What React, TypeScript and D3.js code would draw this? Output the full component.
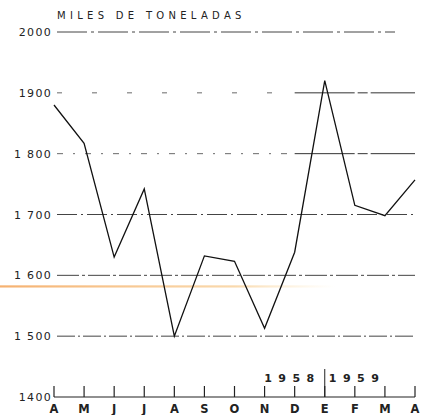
import React from "react";
import * as d3 from "d3";

const months = ["A", "M", "J", "J", "A", "S", "O", "N", "D", "E", "F", "M", "A"];
const values = [1880, 1817, 1630, 1742, 1500, 1632, 1623, 1513, 1638, 1920, 1715, 1698, 1757];
const yTicks = [1400, 1500, 1600, 1700, 1800, 1900, 2000];
const yTickLabels = ["1400", "1 500", "1 600", "1 700", "1 800", "1900", "2000"];
const title = "MILES DE TONELADAS";
const yearLeft = "1958";
const yearRight = "1959";

const W = 425;
const H = 415;
const x = d3.scaleLinear().domain([0, months.length - 1]).range([54, 415]);
const y = d3.scaleLinear().domain([1400, 2000]).range([397, 32]);

const gridDash: Record<number, string> = {
  1500: "18 3 2 3",
  1600: "22 3 3 3",
  1700: "20 4 2 4",
  1800: "6 10 2 10",
  1900: "5 30",
  2000: "30 4 3 4",
};
// grid lines whose right-hand part is drawn solid (from this month index on)
const solidFrom: Record<number, number> = { 1800: 8, 1900: 8 };

export default function App() {
  const line = d3
    .line<number>()
    .x((_, i) => x(i))
    .y((d) => y(d));
  const font = "'DejaVu Sans', 'Liberation Sans', Arial, sans-serif";
  const sepX = x(9);
  return (
    <svg
      width={W}
      height={H}
      style={{ position: "absolute", left: 0, top: 0, background: "#fff" }}
      fontFamily={font}
    >
      <defs>
        <linearGradient id="scan" x1="0" x2="1" y1="0" y2="0">
          <stop offset="0" stopColor="#f4a860" stopOpacity="0.9" />
          <stop offset="0.7" stopColor="#f7c98a" stopOpacity="0.7" />
          <stop offset="1" stopColor="#fbe3b0" stopOpacity="0" />
        </linearGradient>
      </defs>
      {/* scan artefact */}
      <rect x={0} y={y(1600) + 10} width={335} height={2.2} fill="url(#scan)" />
      {/* title */}
      <text x={57} y={19} fontSize={10} letterSpacing={4.3} fill="#222">
        {title}
      </text>
      {/* gridlines */}
      {yTicks
        .filter((t) => t > 1400)
        .map((t) => {
          const sf = solidFrom[t];
          const xEnd = t === 2000 ? 395 : 415;
          return (
            <g key={t}>
              <line
                x1={x(0) + 3}
                x2={sf !== undefined ? x(sf) : xEnd}
                y1={y(t)}
                y2={y(t)}
                stroke="#444"
                strokeWidth={sf !== undefined ? 0.8 : 1}
                strokeDasharray={gridDash[t]}
              />
              {sf !== undefined && (
                <line x1={x(sf)} x2={xEnd} y1={y(t)} y2={y(t)} stroke="#333" strokeWidth={1} strokeDasharray="60 3 10 3" />
              )}
            </g>
          );
        })}
      {/* y labels */}
      {yTicks.map((t, i) => (
        <text
          key={t}
          x={52}
          y={y(t) + 4}
          fontSize={11}
          letterSpacing={1.3}
          textAnchor="end"
          fill="#222"
        >
          {yTickLabels[i]}
        </text>
      ))}
      {/* axis */}
      <line x1={x(0)} x2={x(months.length - 1)} y1={y(1400)} y2={y(1400)} stroke="#222" strokeWidth={1.2} />
      {months.map((m, i) => (
        <g key={i}>
          <line x1={x(i)} x2={x(i)} y1={y(1400)} y2={y(1400) - 11} stroke="#222" strokeWidth={1.2} />
          <text x={x(i)} y={413} fontSize={11.5} fontWeight="bold" textAnchor="middle" fill="#222">
            {m}
          </text>
        </g>
      ))}
      {/* year separator */}
      <line x1={sepX} x2={sepX} y1={369} y2={y(1400)} stroke="#222" strokeWidth={1} />
      <text x={sepX - 4} y={382} fontSize={11} fontWeight="bold" letterSpacing={6.5} textAnchor="end" fill="#222">
        {yearLeft}
      </text>
      <text x={sepX + 4} y={382} fontSize={11} fontWeight="bold" letterSpacing={6.5} fill="#222">
        {yearRight}
      </text>
      {/* data line */}
      <path d={line(values) || ""} fill="none" stroke="#111" strokeWidth={1.3} strokeLinejoin="miter" />
    </svg>
  );
}
